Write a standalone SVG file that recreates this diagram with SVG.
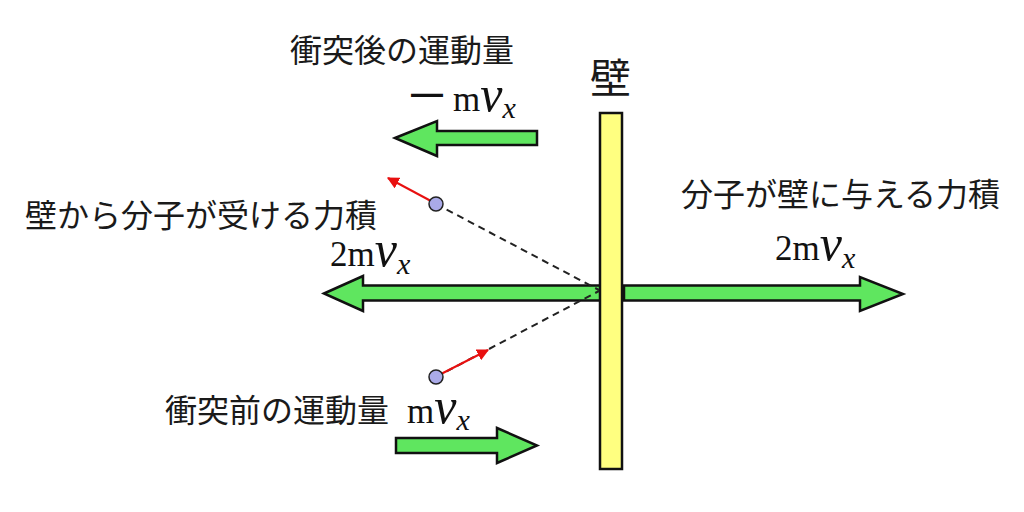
<svg xmlns="http://www.w3.org/2000/svg" width="1024" height="512" viewBox="0 0 1024 512">
<style>
.jp{font-family:"Noto Sans CJK JP","Noto Sans",sans-serif;font-size:32px;fill:#1a1a1a}
.math{font-family:"Liberation Serif",serif;font-size:35px;fill:#111}
.v{font-style:italic;font-size:50px}
.sub{font-style:italic;font-size:30px}
.minus{font-family:"Liberation Sans",sans-serif;font-size:32px;font-weight:bold;font-style:normal}
.block{fill:#5FE65F;stroke:#111;stroke-width:2.5;stroke-linejoin:miter}
.dash{stroke:#222;stroke-width:2;stroke-dasharray:7 5;fill:none}
.vel{stroke:#E81010;stroke-width:2;fill:none}
.mol{fill:#AAAAE8;stroke:#222;stroke-width:1.5}
</style>
<defs>
<marker id="redhead" viewBox="0 0 10 10" refX="9" refY="5" markerWidth="6" markerHeight="6" orient="auto" markerUnits="strokeWidth">
<path d="M0,0 L10,5 L0,10 z" fill="#E81010"/>
</marker>
</defs>
<rect width="1024" height="512" fill="#fff"/>

<g id="momentum-arrows">
<polygon id="arrow-after" class="block" points="395,138 437,121 437,131 537,131 537,145 437,145 437,156"/>
<polygon id="arrow-before" class="block" points="396,438 497,438 497,428 537,445.5 497,463 497,453 396,453"/>
<polygon id="arrow-impulse-molecule" class="block" points="324,293.5 363,276 363,285.5 601,285.5 601,300.5 363,300.5 363,311"/>
<polygon id="arrow-impulse-wall" class="block" points="624,285.5 860,285.5 860,277 903,294 860,311 860,300.5 624,300.5"/>
</g>

<g id="wall">
<rect x="600" y="113" width="22" height="356" fill="#FFFF80" stroke="#111" stroke-width="2.5"/>
<text x="590" y="93" class="jp" style="font-size:41px">壁</text>
</g>

<g id="connectors">
<line class="dash" x1="436" y1="204" x2="599" y2="290"/>
<line class="dash" x1="436" y1="377" x2="599" y2="291"/>
<line class="vel" x1="430" y1="200.5" x2="388" y2="178" marker-end="url(#redhead)"/>
<line class="vel" x1="441" y1="374" x2="488" y2="350" marker-end="url(#redhead)"/>
</g>

<g id="molecule-after">
<circle class="mol" cx="436" cy="204" r="7"/>
</g>
<g id="molecule-before">
<circle class="mol" cx="436" cy="377" r="7"/>
</g>

<g id="label-after">
<text x="290" y="62" class="jp">衝突後の運動量</text>
<text y="111" class="math"><tspan x="411" y="104" class="minus">—</tspan><tspan x="453" y="111">m</tspan><tspan class="v">v</tspan><tspan class="sub" dy="7">x</tspan></text>
</g>

<g id="label-before">
<text x="165" y="422" class="jp">衝突前の運動量</text>
<text x="407" y="423" class="math">m<tspan class="v">v</tspan><tspan class="sub" dy="7">x</tspan></text>
</g>

<g id="label-impulse-molecule">
<text x="25" y="227" class="jp">壁から分子が受ける力積</text>
<text x="330" y="266" class="math">2m<tspan class="v">v</tspan><tspan class="sub" dy="8">x</tspan></text>
</g>

<g id="label-impulse-wall">
<text x="681" y="206" class="jp">分子が壁に与える力積</text>
<text x="775" y="260" class="math">2m<tspan class="v">v</tspan><tspan class="sub" dy="8">x</tspan></text>
</g>
</svg>
